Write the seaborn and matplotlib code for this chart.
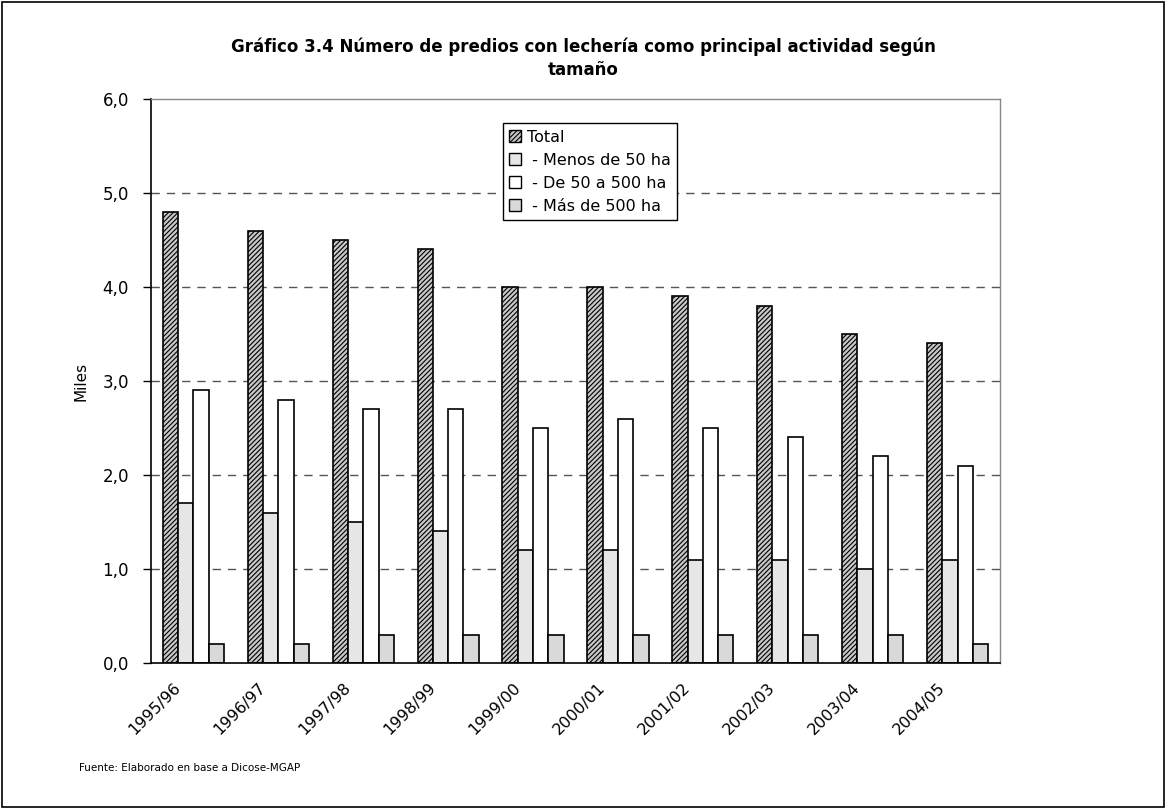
import pandas as pd
import matplotlib
matplotlib.use("Agg")
import matplotlib.pyplot as plt
import matplotlib.transforms as mtransforms
import seaborn as sns
from matplotlib.patches import Rectangle

years = ["1995/96", "1996/97", "1997/98", "1998/99", "1999/00",
         "2000/01", "2001/02", "2002/03", "2003/04", "2004/05"]
total = [4.8, 4.6, 4.5, 4.4, 4.0, 4.0, 3.9, 3.8, 3.5, 3.4]
menos_50 = [1.7, 1.6, 1.5, 1.4, 1.2, 1.2, 1.1, 1.1, 1.0, 1.1]
de_50_500 = [2.9, 2.8, 2.7, 2.7, 2.5, 2.6, 2.5, 2.4, 2.2, 2.1]
mas_500 = [0.2, 0.2, 0.3, 0.3, 0.3, 0.3, 0.3, 0.3, 0.3, 0.2]
series_names = ["Total", " - Menos de 50 ha", " - De 50 a 500 ha", " - Más de 500 ha"]

df = pd.DataFrame({"year": years * 4,
                   "serie": [n for n in series_names for _ in years],
                   "valor": total + menos_50 + de_50_500 + mas_500})

sns.set_style("white")
plt.rcParams["font.family"] = ["DejaVu Sans"]
plt.rcParams["hatch.linewidth"] = 0.8
for k in ["text.color", "axes.labelcolor", "xtick.color", "ytick.color"]:
    plt.rcParams[k] = "black"

fig = plt.figure(figsize=(11.66, 8.09), dpi=100)
# axes box: x 151..1000 px, y 99..663 px
ax = fig.add_axes([151 / 1166, 1 - 663 / 809, 849 / 1166, 564 / 809])

sns.barplot(data=df, x="year", y="valor", hue="serie", hue_order=series_names,
            order=years, width=0.72, ax=ax, legend=False, saturation=1)

faces = ["#c8c8c8", "#e6e6e6", "#ffffff", "#d9d9d9"]
hatches = ["///////", "", "", ""]
for i, cont in enumerate(ax.containers):
    for bar in cont:
        bar.set_facecolor(faces[i])
        bar.set_edgecolor("black")
        bar.set_linewidth(1.2)
        bar.set_hatch(hatches[i])

handles = [Rectangle((0, 0), 1, 1, facecolor=faces[i], edgecolor="black",
                     hatch=hatches[i], linewidth=1.0) for i in range(4)]
leg = ax.legend(handles, series_names, loc="upper left",
                bbox_to_anchor=(0.4146, 0.957), borderaxespad=0,
                fancybox=False, shadow=False, frameon=True, fontsize=11.5,
                handlelength=0.75, handleheight=0.75, handletextpad=0.35,
                labelspacing=0.5, borderpad=0.4)
leg.get_frame().set_edgecolor("black")
leg.get_frame().set_linewidth(1.0)
leg.get_frame().set_alpha(1)
leg.set_zorder(5)
for t in leg.get_texts():
    t.set_color("black")

ax.set_ylim(0, 6)
ax.set_xlim(-0.5, 9.5)
ax.set_yticks([0, 1, 2, 3, 4, 5, 6])
ax.set_yticklabels([f"{v:.1f}".replace(".", ",") for v in range(0, 7)], fontsize=12)
for v in range(1, 6):
    ax.axhline(v, color="#555555", linestyle=(0, (6, 5)), linewidth=1.0, zorder=0)

ax.set_xticks(range(len(years)))
ax.set_xticklabels(years, rotation=45, ha="right", fontsize=11.5)
ax.tick_params(axis="x", which="major", length=0, pad=12)
shift = mtransforms.ScaledTranslation(-10 / 100, 0, fig.dpi_scale_trans)
for lbl in ax.get_xticklabels():
    lbl.set_transform(lbl.get_transform() + shift)
ax.set_xticks([i - 0.5 for i in range(len(years) + 1)], minor=True)
ax.tick_params(axis="x", which="minor", length=6, color="black", width=1.0, direction="out")
ax.tick_params(axis="y", length=6, color="black", width=1.0, direction="out", left=True, pad=10)

for s in ["left", "bottom"]:
    ax.spines[s].set_color("black")
    ax.spines[s].set_linewidth(1.2)
for s in ["top", "right"]:
    ax.spines[s].set_color("#888888")
    ax.spines[s].set_linewidth(1.0)

ax.set_xlabel("")
ax.set_ylabel("Miles", fontsize=11, labelpad=10)

fig.text(0.5, 0.928, "Gráfico 3.4 Número de predios con lechería como principal actividad según\ntamaño",
         ha="center", va="center", fontsize=12, fontweight="bold", linespacing=1.35)
fig.text(0.068, 0.051, "Fuente: Elaborado en base a Dicose-MGAP", fontsize=7.5, ha="left", va="center")

fig.patches.append(Rectangle((0.002, 0.003), 0.996, 0.994, transform=fig.transFigure,
                             fill=False, edgecolor="black", linewidth=1.2))

fig.savefig("out.png", dpi=100)
